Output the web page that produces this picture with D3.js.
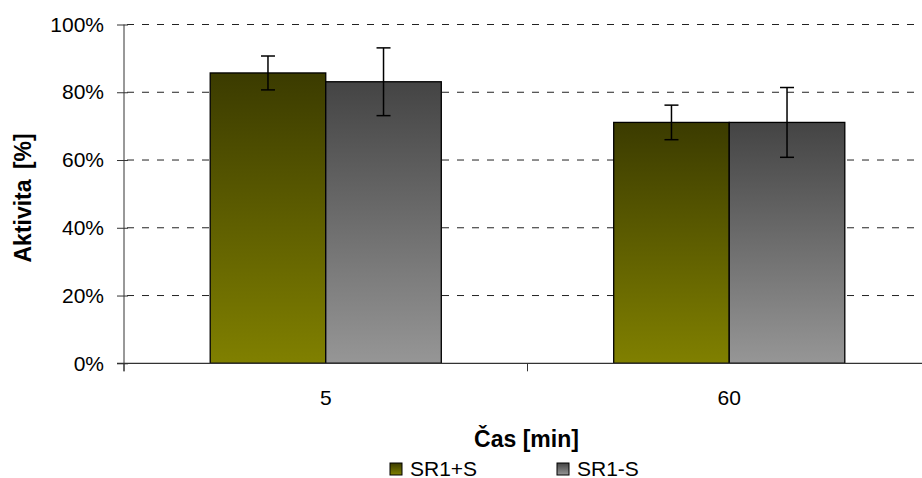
<!DOCTYPE html>
<html>
<head>
<meta charset="utf-8">
<script src="https://cdn.jsdelivr.net/npm/d3@7"></script>
<style>
  html, body { margin: 0; padding: 0; background: #fff; }
  svg { display: block; font-family: "Liberation Sans", Arial, sans-serif; }
</style>
</head>
<body>
<svg id="chart" width="922" height="478"></svg>
<script>
// Activity after incubation time, two sample series with error bars
const categories = ["5", "60"];
const seriesNames = ["SR1+S", "SR1-S"];
const valuesSR1plus = [0.857, 0.711];
const valuesSR1minus = [0.831, 0.711];
const errorsSR1plus = [0.050, 0.051];
const errorsSR1minus = [0.100, 0.103];
const yTicks = [0, 0.2, 0.4, 0.6, 0.8, 1.0];
const xTitle = "Čas [min]";
const yTitle = "Aktivita [%]";

const values = [valuesSR1plus, valuesSR1minus];
const errors = [errorsSR1plus, errorsSR1minus];
const gradStops = [["#3b3b00", "#808000"], ["#444444", "#969696"]];

const svg = d3.select("#chart");
const plot = { left: 124, right: 931, top: 24.5, bottom: 363.3 };

const defs = svg.append("defs");
gradStops.forEach((s, i) => {
  const g = defs.append("linearGradient")
    .attr("id", "grad" + i)
    .attr("x1", 0).attr("y1", 0).attr("x2", 0).attr("y2", 1);
  g.append("stop").attr("offset", "0%").attr("stop-color", s[0]);
  g.append("stop").attr("offset", "100%").attr("stop-color", s[1]);
});

const x0 = d3.scaleBand().domain(categories).range([plot.left, plot.right]).padding(0);
const x1 = d3.scaleBand().domain(seriesNames).range([0, x0.bandwidth()])
  .paddingInner(0).paddingOuter(0.746);
const y = d3.scaleLinear().domain([0, 1]).range([plot.bottom, plot.top]);

// dashed horizontal gridlines
svg.append("g").selectAll("line")
  .data(yTicks.filter(t => t > 0))
  .join("line")
  .attr("x1", plot.left + 3).attr("x2", 922)
  .attr("y1", d => y(d)).attr("y2", d => y(d))
  .attr("stroke", "#222").attr("stroke-width", 1)
  .attr("stroke-dasharray", "7,8");

// y axis
const yAxis = d3.axisLeft(y).tickValues(yTicks)
  .tickFormat(d3.format(".0%")).tickSizeOuter(0).tickSize(7).tickPadding(13);
const yg = svg.append("g").attr("transform", `translate(${plot.left},0)`).call(yAxis);
yg.select(".domain").remove();
yg.selectAll(".tick line").attr("stroke", "#333").attr("x2", -7).attr("x1", 4);
yg.selectAll(".tick text").attr("font-size", 21).attr("fill", "#000")
  .attr("font-family", "Liberation Sans, Arial, sans-serif").attr("x", -20);
svg.append("line").attr("x1", plot.left).attr("x2", plot.left)
  .attr("y1", plot.top).attr("y2", plot.bottom + 8)
  .attr("stroke", "#333").attr("stroke-width", 1);

// bars
const groups = svg.append("g").selectAll("g")
  .data(categories)
  .join("g")
  .attr("transform", d => `translate(${x0(d)},0)`);

seriesNames.forEach((s, si) => {
  groups.append("rect")
    .attr("x", x1(s))
    .attr("width", x1.bandwidth())
    .attr("y", (d, ci) => y(values[si][ci]))
    .attr("height", (d, ci) => y(0) - y(values[si][ci]))
    .attr("fill", `url(#grad${si})`)
    .attr("stroke", "#000").attr("stroke-width", 1.3);
});

// x axis line and boundary ticks
svg.append("line").attr("x1", plot.left - 7).attr("x2", 922)
  .attr("y1", plot.bottom).attr("y2", plot.bottom)
  .attr("stroke", "#333").attr("stroke-width", 1.2);
const bounds = categories.map(c => x0(c)).concat([x0(categories[categories.length - 1]) + x0.bandwidth()]);
svg.append("g").selectAll("line").data(bounds).join("line")
  .attr("x1", d => d).attr("x2", d => d)
  .attr("y1", plot.bottom).attr("y2", plot.bottom + 8)
  .attr("stroke", "#333").attr("stroke-width", 1);
svg.append("g").selectAll("text").data(categories).join("text")
  .attr("x", d => x0(d) + x0.bandwidth() / 2)
  .attr("y", 405)
  .attr("text-anchor", "middle")
  .attr("font-size", 21)
  .text(d => d);

// error bars
seriesNames.forEach((s, si) => {
  const cx = (ci) => x1(s) + x1.bandwidth() / 2;
  const eg = groups.append("g");
  eg.append("line")
    .attr("x1", cx).attr("x2", cx)
    .attr("y1", (d, ci) => y(values[si][ci] + errors[si][ci]))
    .attr("y2", (d, ci) => y(values[si][ci] - errors[si][ci]))
    .attr("stroke", "#000").attr("stroke-width", 1.5);
  [1, -1].forEach(sign => {
    eg.append("line")
      .attr("x1", (d, ci) => cx(ci) - 7).attr("x2", (d, ci) => cx(ci) + 7)
      .attr("y1", (d, ci) => y(values[si][ci] + sign * errors[si][ci]))
      .attr("y2", (d, ci) => y(values[si][ci] + sign * errors[si][ci]))
      .attr("stroke", "#000").attr("stroke-width", 1.5);
  });
});

// axis titles
svg.append("text")
  .attr("x", (plot.left + plot.right) / 2 - 1)
  .attr("y", 447)
  .attr("text-anchor", "middle")
  .attr("font-size", 23).attr("font-weight", "bold")
  .text(xTitle);
svg.append("text")
  .attr("transform", `translate(31,${(plot.top + plot.bottom) / 2 + 4}) rotate(-90)`)
  .attr("text-anchor", "middle")
  .attr("font-size", 23).attr("font-weight", "bold")
  .attr("word-spacing", 4)
  .text(yTitle);

// legend
const legendX = [390, 557];
const lg = svg.append("g").selectAll("g").data(seriesNames).join("g")
  .attr("transform", (d, i) => `translate(${legendX[i]},463)`);
lg.append("rect").attr("width", 12).attr("height", 12)
  .attr("fill", (d, i) => `url(#grad${i})`)
  .attr("stroke", "#000").attr("stroke-width", 1);
lg.append("text").attr("x", 20).attr("y", 12.5)
  .attr("font-size", 21)
  .text(d => d);
</script>
</body>
</html>
